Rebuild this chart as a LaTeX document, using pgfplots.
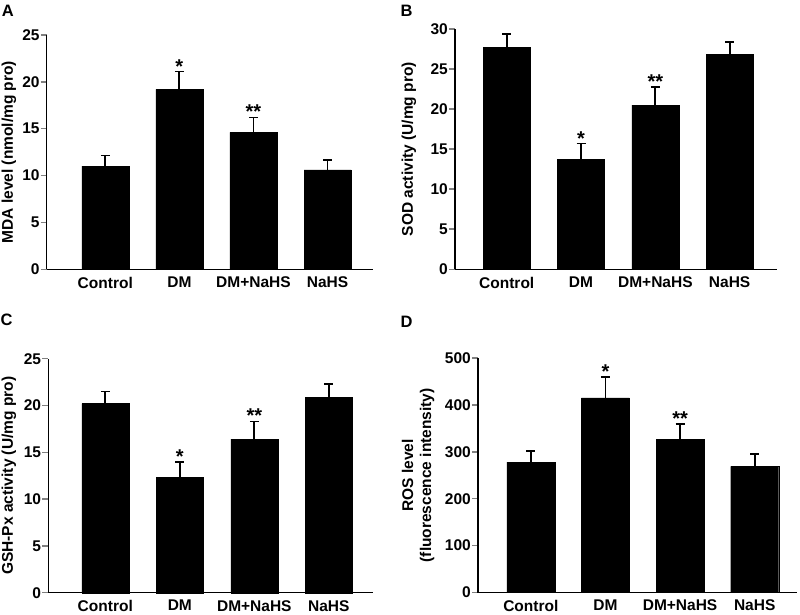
\documentclass[border=0pt]{standalone}
\usepackage{fontspec}
\setmainfont{Liberation Sans}
\usepackage{pgfplots}
\pgfplotsset{compat=1.18}
\tikzset{
  star/.style={font=\fontsize{20}{20}\selectfont\bfseries, anchor=base, inner sep=0pt, yshift=-1.5pt},
}
\pgfplotsset{
  panel/.style={
    scale only axis, anchor=south west,
    axis lines*=left, axis line style={line width=1.5pt},
    ymin=0,
    xtick={0,1,2,3}, xticklabels={Control,DM,DM+NaHS,NaHS},
    xtick style={draw=none},
    ytick style={line width=1.5pt},
    tick align=outside, major tick length=6pt,
    /pgf/number format/assume math mode=true,
    ticklabel style={font=\fontsize{15.5}{18}\selectfont\bfseries},
    yticklabel style={inner sep=1pt},
    xticklabel style={yshift=2pt},
    label style={font=\fontsize{15.5}{18}\selectfont\bfseries},
    ylabel style={anchor=center},
    ybar, bar width=47pt, bar shift=0pt,
    clip=false,
  },
  barplot/.style={fill=black, draw=black,
    error bars/.cd, y dir=plus, y explicit,
    error mark=|,
    error bar style={line width=1.8pt, black},
    error mark options={line width=1.8pt, mark size=4.5pt, black}},
}
\begin{document}
\begin{tikzpicture}
\useasboundingbox (0,0) rectangle (800pt,614pt);
% Panel A
\begin{axis}[panel, at={(46.7pt,344.7pt)}, width=326.3pt, height=234.3pt,
  xmin=-0.791, xmax=3.614, ymax=25, ytick={0,5,10,15,20,25},
  ylabel={MDA level (nmol/mg pro)},
  ylabel style={at={(axis description cs:-0.1155,0.5)}}]
\addplot[barplot] table[x=x,y=y,y error=e] {
x y e
0 11.0 1.15
1 19.2 1.9
2 14.6 1.6
3 10.6 1.1
};
\node[star] at (axis cs:1,21.1) {*};
\node[star] at (axis cs:2,16.2) {**};
\end{axis}
% Panel B
\begin{axis}[panel, at={(455pt,344.7pt)}, width=321.7pt, height=240.3pt,
  xmin=-0.696, xmax=3.633, ymax=30, ytick={0,5,10,15,20,25,30},
  ylabel={SOD activity (U/mg pro)},
  ylabel style={at={(axis description cs:-0.143,0.5)}}]
\addplot[barplot] table[x=x,y=y,y error=e] {
x y e
0 27.7 1.7
1 13.7 2.0
2 20.5 2.3
3 26.8 1.6
};
\node[star] at (axis cs:1,15.7) {*};
\node[star] at (axis cs:2,22.8) {**};
\end{axis}
% Panel C
\begin{axis}[panel, at={(48.3pt,21.3pt)}, width=324.7pt, height=234pt,
  xmin=-0.765, xmax=3.593, ymax=25, ytick={0,5,10,15,20,25},
  ylabel={GSH-Px activity (U/mg pro)},
  ylabel style={at={(axis description cs:-0.121,0.5)}}]
\addplot[barplot] table[x=x,y=y,y error=e] {
x y e
0 20.2 1.3
1 12.35 1.6
2 16.4 1.9
3 20.9 1.4
};
\node[star] at (axis cs:1,13.95) {*};
\node[star] at (axis cs:2,18.3) {**};
\end{axis}
% Panel D
\begin{axis}[panel, at={(478pt,21.5pt)}, width=318.7pt, height=234.5pt,
  xmin=-0.708, xmax=3.563, ymax=500, ytick={0,100,200,300,400,500},
  bar width=48pt,
  ylabel={ROS level\\(fluorescence intensity)},
  ylabel style={align=center, at={(axis description cs:-0.188,0.5)}}]
\addplot[barplot] table[x=x,y=y,y error=e] {
x y e
0 278 23
1 415 45
2 326 34
3 269 26
};
\node[star] at (axis cs:1,460) {*};
\node[star] at (axis cs:2,360) {**};
\end{axis}
% Panel letters
\node[anchor=base west, inner sep=0pt, font=\fontsize{16.5}{18}\selectfont\bfseries] at (1.7pt,597.3pt) {A};
\node[anchor=base west, inner sep=0pt, font=\fontsize{16.5}{18}\selectfont\bfseries] at (400.5pt,597.3pt) {B};
\node[anchor=base west, inner sep=0pt, font=\fontsize{16.5}{18}\selectfont\bfseries] at (0.5pt,288.7pt) {C};
\node[anchor=base west, inner sep=0pt, font=\fontsize{16.5}{18}\selectfont\bfseries] at (400.5pt,287pt) {D};
\end{tikzpicture}
\end{document}
